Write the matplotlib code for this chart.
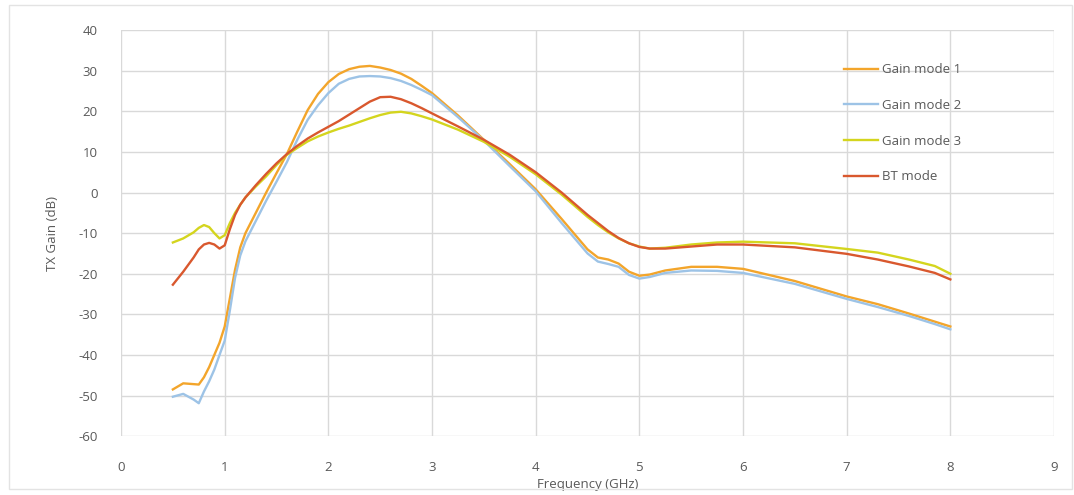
import matplotlib.pyplot as plt
from matplotlib.patches import Rectangle

plt.rcParams['font.family'] = ['Open Sans', 'DejaVu Sans']
plt.rcParams['axes.unicode_minus'] = False

# frequency points (GHz)
freq = [0.5, 0.6, 0.7, 0.75, 0.8, 0.85, 0.9, 0.95, 1.0, 1.05, 1.1, 1.15, 1.2, 1.3,
        1.4, 1.5, 1.6, 1.7, 1.8, 1.9, 2.0, 2.1, 2.2, 2.3, 2.4, 2.5, 2.6, 2.7, 2.8,
        2.9, 3.0, 3.25, 3.5, 3.75, 4.0, 4.25, 4.5, 4.6, 4.7, 4.8, 4.9, 5.0, 5.1,
        5.25, 5.5, 5.75, 6.0, 6.5, 7.0, 7.3, 7.6, 7.85, 8.0]

gain_mode1 = [-48.5, -47.0, -47.2, -47.3, -45.5, -43.0, -40.0, -37.0, -33.0, -26.0,
              -19.0, -13.5, -10.0, -5.0, 0.0, 4.8, 9.5, 15.0, 20.3, 24.3, 27.2, 29.2,
              30.4, 31.0, 31.2, 30.8, 30.2, 29.3, 28.0, 26.3, 24.5, 19.0, 13.0, 7.0,
              0.8, -6.5, -14.0, -16.0, -16.5, -17.5, -19.5, -20.5, -20.2, -19.2,
              -18.3, -18.3, -18.8, -21.8, -25.6, -27.5, -29.8, -31.8, -33.0]

gain_mode2 = [-50.3, -49.6, -51.0, -51.9, -49.0, -46.5, -43.6, -40.0, -36.5, -29.0,
              -21.0, -15.5, -12.0, -7.0, -2.0, 2.7, 7.5, 13.0, 17.9, 21.5, 24.5, 26.8,
              28.0, 28.6, 28.7, 28.6, 28.2, 27.5, 26.5, 25.3, 24.0, 18.6, 12.8, 6.5,
              0.3, -7.5, -15.0, -17.0, -17.6, -18.3, -20.3, -21.2, -20.8, -19.8,
              -19.2, -19.3, -19.8, -22.5, -26.2, -28.2, -30.4, -32.4, -33.7]

gain_mode3 = [-12.3, -11.3, -9.8, -8.7, -8.0, -8.5, -10.0, -11.3, -10.5, -7.5,
              -5.0, -3.0, -1.2, 1.5, 4.0, 6.8, 9.3, 11.0, 12.6, 13.8, 14.8, 15.7,
              16.5, 17.4, 18.3, 19.1, 19.7, 19.9, 19.5, 18.8, 18.0, 15.5, 12.5, 8.8,
              4.5, -0.5, -6.0, -8.0, -9.8, -11.3, -12.5, -13.3, -13.8, -13.6,
              -12.8, -12.3, -12.1, -12.5, -13.9, -14.8, -16.5, -18.1, -20.0]

bt_mode = [-22.7, -19.5, -16.0, -14.0, -12.8, -12.4, -12.8, -13.8, -13.0, -9.0,
           -5.5, -3.0, -1.2, 1.8, 4.6, 7.2, 9.5, 11.5, 13.3, 14.8, 16.2, 17.6,
           19.2, 20.8, 22.4, 23.5, 23.6, 23.0, 22.0, 20.8, 19.5, 16.3, 13.0, 9.3,
           5.0, 0.0, -5.5, -7.5, -9.5, -11.2, -12.5, -13.4, -13.8, -13.8,
           -13.3, -12.8, -12.8, -13.5, -15.1, -16.5, -18.2, -19.8, -21.4]

series = [
    ('Gain mode 1', gain_mode1, '#F3A52B'),
    ('Gain mode 2', gain_mode2, '#9DC3E6'),
    ('Gain mode 3', gain_mode3, '#D4D51E'),
    ('BT mode', bt_mode, '#D9582E'),
]

txt = '#595959'

fig = plt.figure(figsize=(10.74, 4.95), dpi=100)
ax = fig.add_axes([0.1127, 0.119, 0.8687, 0.820])

for name, vals, col in series:
    ax.plot(freq, vals, color=col, lw=1.7, label=name)

ax.set_xlim(0, 9)
ax.set_ylim(-60, 40)
ax.set_xticks(range(0, 10))
ax.set_yticks(range(-60, 41, 10))
ax.grid(True, color='#D9D9D9', lw=1)
ax.set_axisbelow(True)
for s in ax.spines.values():
    s.set_visible(False)
ax.tick_params(length=0, labelsize=9.5, colors=txt)
ax.tick_params(axis='y', pad=17)
ax.tick_params(axis='x', pad=18)

ax.set_xlabel('Frequency (GHz)', fontsize=9.5, color=txt, labelpad=3)
ax.set_ylabel('TX Gain (dB)', fontsize=9.5, color=txt, labelpad=14)

leg = ax.legend(loc='upper left', bbox_to_anchor=(0.762, 0.948), frameon=False,
                fontsize=9.5, labelspacing=1.72, handlelength=2.6, handletextpad=0.3)
for t in leg.get_texts():
    t.set_color(txt)

# chart border
fig.patches.append(Rectangle((0.008, 0.012), 0.99, 0.978, transform=fig.transFigure,
                             fill=False, ec='#E3E3E3', lw=1))

fig.savefig('out.png', dpi=100)
